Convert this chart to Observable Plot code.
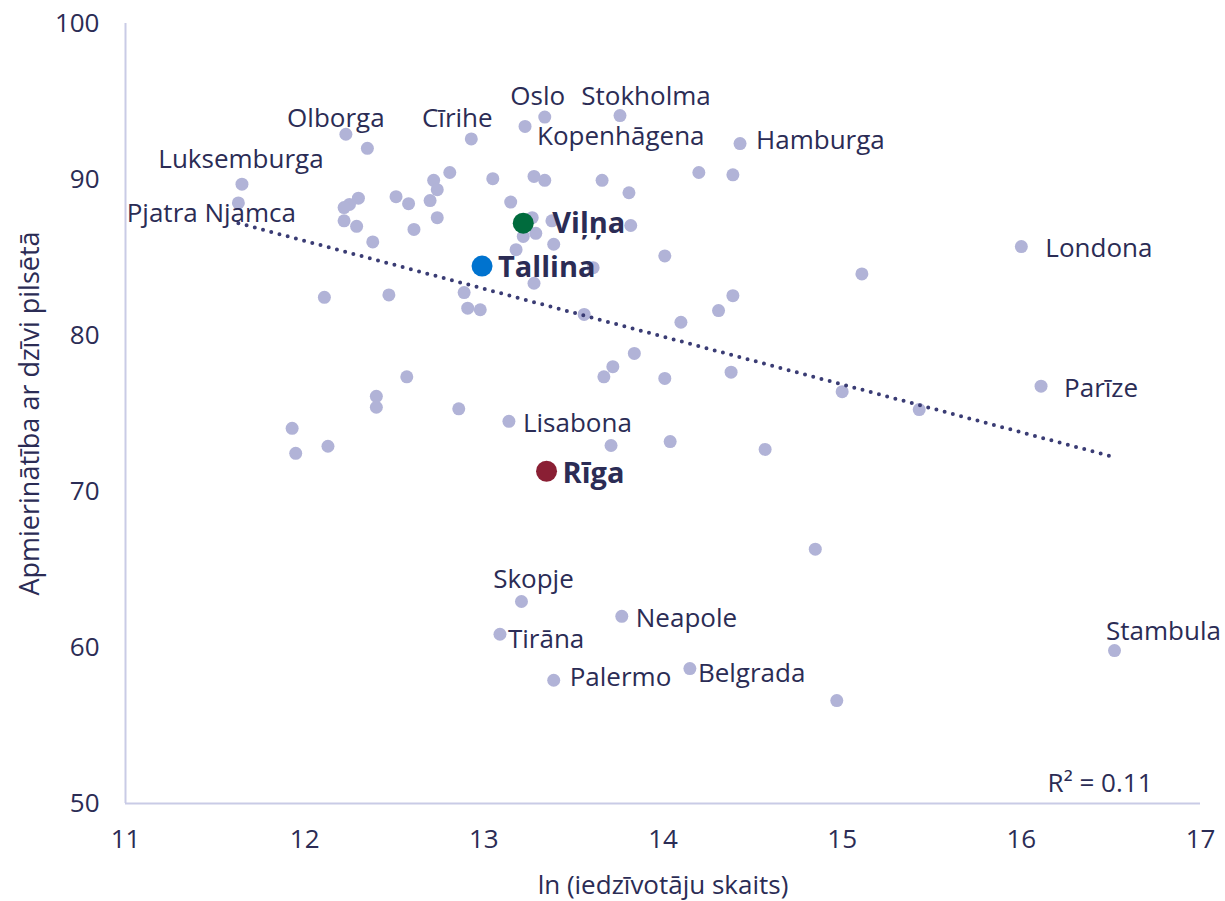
<!DOCTYPE html>
<html>
<head>
<meta charset="utf-8">
<script src="https://cdn.jsdelivr.net/npm/d3@7"></script>
<script src="https://cdn.jsdelivr.net/npm/@observablehq/plot@0.6"></script>
<style>
  html, body { margin: 0; padding: 0; background: #ffffff; }
  #chart svg { display: block; }
</style>
</head>
<body>
<div id="chart"></div>
<script>
// ---- Data ----
const cityNames = [
  "Luksemburga", "Pjatra Njamca", "Olborga", null, "Cīrihe", "Oslo", "Kopenhāgena", "Stokholma", "Hamburga", null,
  null, null, null, null, null, null, null, null, null, null,
  null, null, null, null, null, null, null, null, null, null,
  null, null, null, null, null, null, null, null, null, null,
  null, null, null, null, null, null, null, null, null, null,
  null, "Londona", null, null, null, null, null, null, null, "Parīze",
  null, null, null, null, null, null, null, "Lisabona", null, null,
  null, null, "Skopje", "Neapole", "Tirāna", "Palermo", "Belgrada", null, "Stambula"
];
const lnPopulation = [
  11.65, 11.63, 12.23, 12.35, 12.93, 13.34, 13.23, 13.76, 14.43, 14.20,
  14.39, 13.66, 13.81, 13.28, 13.34, 13.05, 12.81, 12.72, 12.74, 12.51,
  12.58, 12.30, 12.25, 12.22, 12.22, 12.29, 12.38, 12.61, 12.70, 12.74,
  13.15, 13.38, 13.82, 13.27, 13.22, 13.29, 13.18, 13.39, 13.61, 14.01,
  13.28, 12.11, 12.47, 12.89, 12.91, 12.98, 13.56, 14.10, 14.31, 14.39,
  15.11, 16.00, 13.84, 13.72, 13.67, 14.01, 14.38, 15.00, 15.43, 16.11,
  12.57, 12.40, 12.40, 12.86, 11.93, 11.95, 12.13, 13.14, 13.71, 14.04,
  14.57, 14.85, 13.21, 13.77, 13.09, 13.39, 14.15, 14.97, 16.52
];
const satisfaction = [
  89.7, 88.5, 92.9, 92.0, 92.6, 94.0, 93.4, 94.1, 92.3, 90.45,
  90.3, 89.95, 89.15, 90.2, 89.95, 90.05, 90.45, 89.95, 89.35, 88.9,
  88.45, 88.8, 88.4, 88.2, 87.35, 87.0, 86.0, 86.8, 88.65, 87.55,
  88.55, 87.35, 87.05, 87.55, 86.35, 86.55, 85.5, 85.85, 84.35, 85.1,
  83.35, 82.45, 82.6, 82.75, 81.75, 81.65, 81.35, 80.85, 81.6, 82.55,
  83.95, 85.7, 78.85, 78.0, 77.35, 77.25, 77.65, 76.4, 75.25, 76.75,
  77.35, 76.1, 75.4, 75.3, 74.05, 72.45, 72.9, 74.5, 72.95, 73.2,
  72.7, 66.3, 62.95, 62.0, 60.85, 57.9, 58.65, 56.6, 59.8
];

const balticNames = ["Viļņa", "Tallina", "Rīga"];
const balticX = [13.22, 12.99, 13.35];
const balticY = [87.2, 84.45, 71.3];

// trend line endpoints as drawn in the reference
const trendX = [11.63, 16.52];
const trendY = [87.2, 72.2];
const r2Text = "R² = 0.11";

const xTicks = [11, 12, 13, 14, 15, 16, 17];
const yTicks = [50, 60, 70, 80, 90, 100];
const xTitle = "ln (iedzīvotāju skaits)";
const yTitle = "Apmierinātība ar dzīvi pilsētā";

// ---- Styling / label placement ----
const textColor = "#2b2c55";
const pointColor = "#b1b3d7";
const axisColor = "#c9cbe6";
const trendColor = "#3a3c74";
const balticColors = {"Viļņa": "#006b3d", "Tallina": "#0073cf", "Rīga": "#8a1f34"};
const fontSize = 26;
const boldSize = 29;

const labelLayout = {
  "Luksemburga":   {dx: -1,  dy: -25, anchor: "middle"},
  "Pjatra Njamca": {dx: -27, dy: 11,  anchor: "middle"},
  "Olborga":       {dx: -10, dy: -16, anchor: "middle"},
  "Cīrihe":        {dx: -14, dy: -20, anchor: "middle"},
  "Oslo":          {dx: -7,  dy: -20, anchor: "middle"},
  "Stokholma":     {dx: 26,  dy: -19, anchor: "middle"},
  "Kopenhāgena":   {dx: 12,  dy: 10,  anchor: "start"},
  "Hamburga":      {dx: 16,  dy: -3,  anchor: "start"},
  "Londona":       {dx: 24,  dy: 2,   anchor: "start"},
  "Parīze":        {dx: 23,  dy: 2,   anchor: "start"},
  "Lisabona":      {dx: 14,  dy: 2,   anchor: "start"},
  "Skopje":        {dx: 12,  dy: -22, anchor: "middle"},
  "Neapole":       {dx: 14,  dy: 2,   anchor: "start"},
  "Tirāna":        {dx: 8,   dy: 5,   anchor: "start"},
  "Palermo":       {dx: 16,  dy: -3,  anchor: "start"},
  "Belgrada":      {dx: 8,   dy: 5,   anchor: "start"},
  "Stambula":      {dx: 49,  dy: -19, anchor: "middle"},
  "Viļņa":         {dx: 29,  dy: 1,   anchor: "start"},
  "Tallina":       {dx: 16,  dy: 2,   anchor: "start"},
  "Rīga":          {dx: 16,  dy: 2,   anchor: "start"}
};

// ---- Build tables ----
const cities = lnPopulation.map((x, i) => ({name: cityNames[i], x, y: satisfaction[i]}));
const baltic = balticNames.map((name, i) => ({name, x: balticX[i], y: balticY[i]}));
const trend = trendX.map((x, i) => ({x, y: trendY[i]}));

const labelMarks = [];
for (const d of cities.filter(d => d.name)) {
  const L = labelLayout[d.name];
  labelMarks.push(Plot.text([d], {x: "x", y: "y", text: "name", dx: L.dx, dy: L.dy, textAnchor: L.anchor,
    fill: textColor, fontSize, lineAnchor: "middle"}));
}
for (const d of baltic) {
  const L = labelLayout[d.name];
  labelMarks.push(Plot.text([d], {x: "x", y: "y", text: "name", dx: L.dx, dy: L.dy, textAnchor: L.anchor,
    fill: textColor, fontSize: boldSize, fontWeight: "bold", lineAnchor: "middle"}));
}

const chart = Plot.plot({
  width: 1225,
  height: 901,
  marginLeft: 125,
  marginRight: 25,
  marginTop: 23,
  marginBottom: 98,
  style: {fontFamily: "'Open Sans', 'Noto Sans', sans-serif", fontSize: fontSize + "px", color: textColor, background: "#ffffff"},
  x: {domain: [11, 17]},
  y: {domain: [50, 100]},
  marks: [
    Plot.ruleX([11], {stroke: axisColor, strokeWidth: 2}),
    Plot.ruleY([50], {stroke: axisColor, strokeWidth: 2}),
    Plot.axisX(xTicks, {tickSize: 0, tickPadding: 26, tickFormat: d => String(d), fontSize, fill: textColor, label: null}),
    Plot.axisY(yTicks, {tickSize: 0, tickPadding: 26, tickFormat: d => String(d), fontSize, fill: textColor, label: null}),
    Plot.text([xTitle], {frameAnchor: "bottom", dy: 82, textAnchor: "middle", fontSize, fill: textColor, lineAnchor: "middle"}),
    Plot.text([yTitle], {frameAnchor: "left", dx: -95, rotate: -90, textAnchor: "middle", fontSize: 27, fill: textColor, lineAnchor: "middle"}),
    Plot.dot(cities, {x: "x", y: "y", r: 6.5, fill: pointColor, stroke: "none"}),
    Plot.line(trend, {x: "x", y: "y", stroke: trendColor, strokeWidth: 4, strokeDasharray: "0 8.5", strokeLinecap: "round"}),
    Plot.dot(baltic, {x: "x", y: "y", r: 10.5, fill: d => balticColors[d.name], stroke: "none"}),
    ...labelMarks,
    Plot.text([r2Text], {frameAnchor: "bottom-right", dx: -48, dy: -20, textAnchor: "end", lineAnchor: "middle", fontSize, fill: textColor})
  ]
});
document.getElementById("chart").appendChild(chart);
</script>
</body>
</html>
